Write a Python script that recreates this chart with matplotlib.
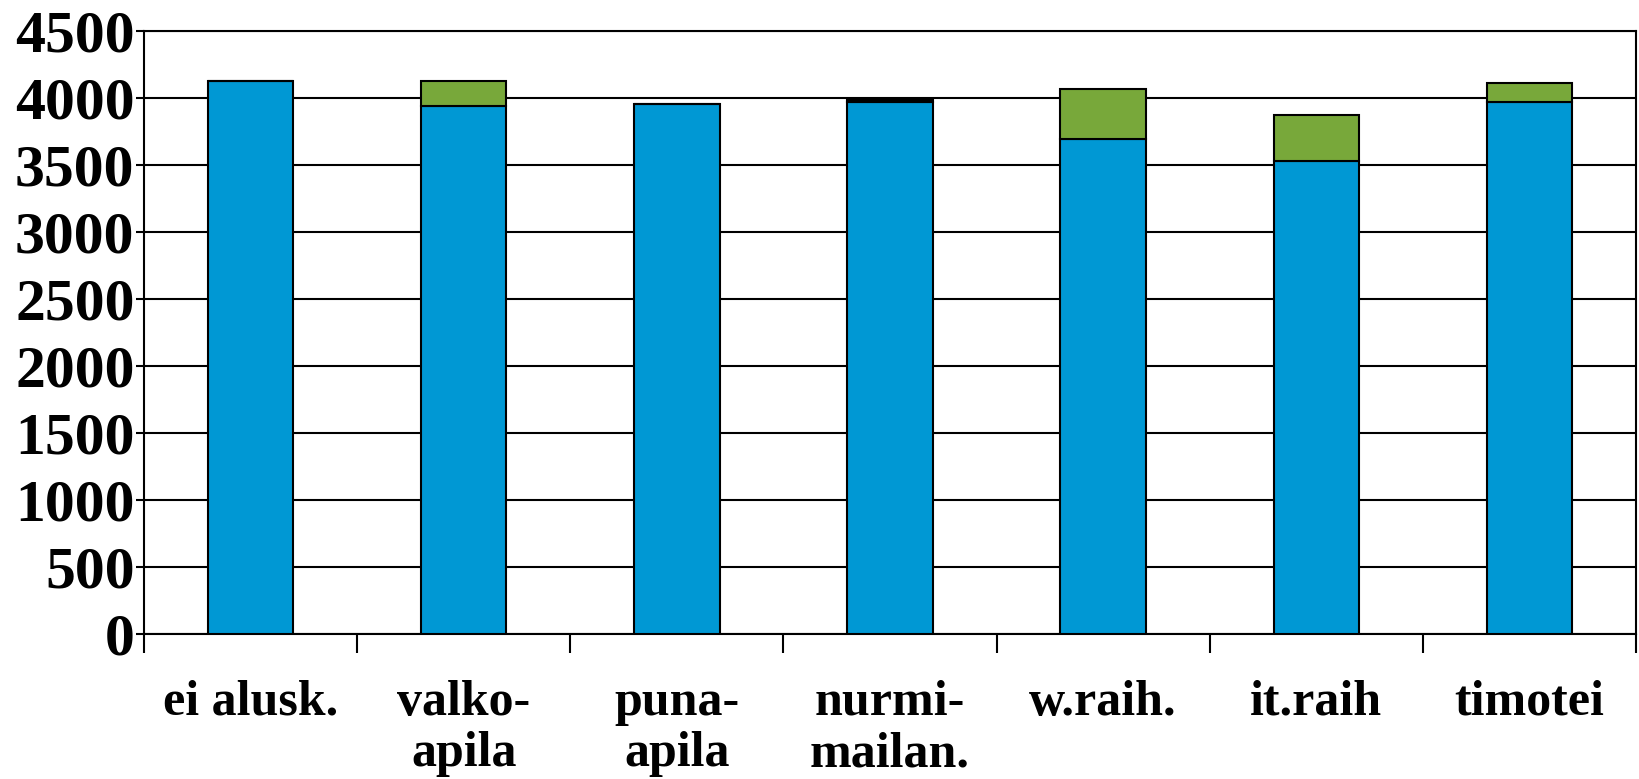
import numpy as np
import matplotlib.pyplot as plt

# stacked yield bars: main crop (blue) + undersown crop (green)
labels = ['ei alusk.', 'valko-\napila', 'puna-\napila', 'nurmi-\nmailan.',
          'w.raih.', 'it.raih', 'timotei']
main_crop = [4130, 3940, 3955, 3975, 3695, 3530, 3975]
undersown = [0, 190, 0, 10, 372, 345, 137]

blue = '#0098D4'
green = '#78A83A'

plt.rcParams['font.family'] = 'Liberation Serif'
plt.rcParams['font.weight'] = 'bold'

fig = plt.figure(figsize=(16.39, 7.79), dpi=100)
ax = fig.add_axes([0.088, 0.186, 0.910, 0.774])

x = np.arange(len(labels))
ax.bar(x, main_crop, width=0.4, color=blue, edgecolor='black', linewidth=1.5, zorder=3)
ax.bar(x, undersown, width=0.4, bottom=main_crop, color=green,
       edgecolor='black', linewidth=1.5, zorder=3)

ax.set_xlim(-0.5, len(labels) - 0.5)
ax.set_ylim(0, 4500)
ax.set_yticks(np.arange(0, 4501, 500))
ax.yaxis.grid(True, color='black', linewidth=1.5, zorder=0)

ax.set_xticks(x)
ax.set_xticklabels(labels, fontsize=36, fontweight='bold', linespacing=1.15)
ax.tick_params(axis='x', which='major', length=0, pad=33)
ax.set_xticks(np.arange(-0.5, len(labels)), minor=True)
ax.tick_params(axis='x', which='minor', length=14, width=1.5, color='black')
ax.tick_params(axis='y', length=6, width=1.5, labelsize=43, pad=1)
for lab in ax.get_yticklabels():
    lab.set_fontweight('bold')

for sp in ax.spines.values():
    sp.set_linewidth(1.5)
    sp.set_color('black')

fig.savefig('out.png', dpi=100, facecolor='white')
